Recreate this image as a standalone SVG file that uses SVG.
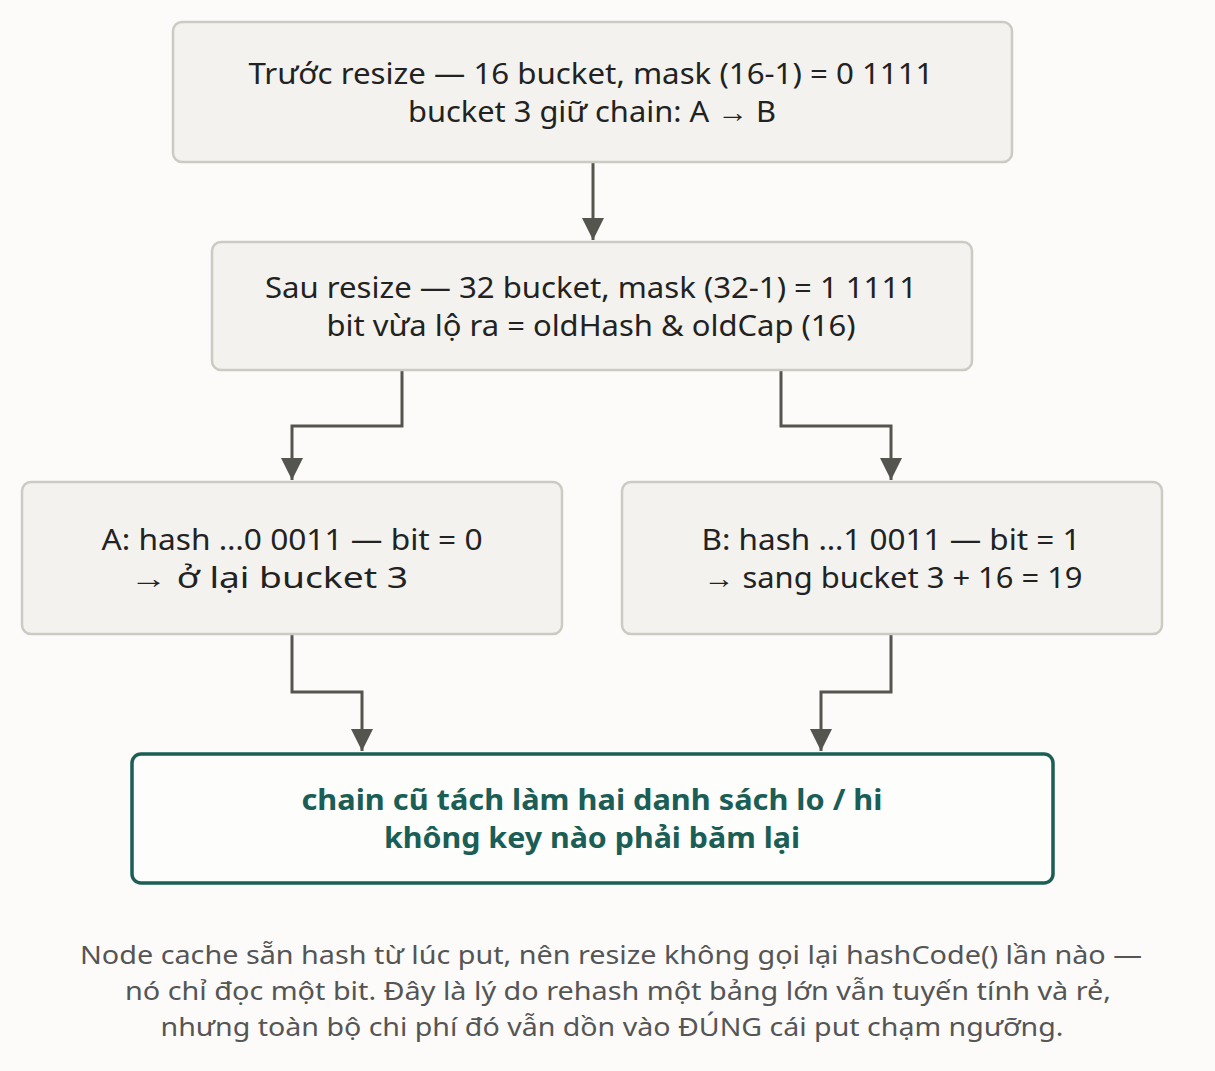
<svg xmlns="http://www.w3.org/2000/svg" width="1215" height="1071" viewBox="0 0 1215 1071">
<style>
.n{fill:#f3f2ee;stroke:#cbcac3;stroke-width:2.5}
.t{font-family:"Noto Sans","Liberation Sans",Arial,sans-serif;font-size:29px;fill:#222;text-anchor:middle}
.h{font-family:"Noto Sans","Liberation Sans",Arial,sans-serif;font-size:29px;font-weight:bold;fill:#1a5e55;text-anchor:middle}
.c{font-family:"Noto Sans","Liberation Sans",Arial,sans-serif;font-size:26px;fill:#555;text-anchor:middle}
.e{fill:none;stroke:#555550;stroke-width:3}
</style>
<defs>
<marker id="m" viewBox="0 0 10 10" refX="10" refY="5" markerWidth="22" markerHeight="22" markerUnits="userSpaceOnUse" orient="auto"><path d="M0,0L10,5L0,10z" fill="#555550"/></marker></defs>
<rect width="1215" height="1071" fill="#fcfbf9"/>
<g id="connectors">
<path class="e" d="M593,162V240" marker-end="url(#m)"/>
<path class="e" d="M402,370V426H292V480" marker-end="url(#m)"/>
<path class="e" d="M781,370V426H891V480" marker-end="url(#m)"/>
<path class="e" d="M292,634V692H362V751" marker-end="url(#m)"/>
<path class="e" d="M891,634V692H821V751" marker-end="url(#m)"/>
</g>
<g id="n1"><rect class="n" x="173" y="22" width="839" height="140" rx="9"/>
<text class="t" x="591" y="84" textLength="685" lengthAdjust="spacingAndGlyphs">Trước resize — 16 bucket, mask (16-1) = 0 1111</text>
<text class="t" x="592" y="122" textLength="368" lengthAdjust="spacingAndGlyphs">bucket 3 giữ chain: A → B</text></g>
<g id="n2"><rect class="n" x="212" y="242" width="760" height="128" rx="9"/>
<text class="t" x="591" y="298" textLength="652" lengthAdjust="spacingAndGlyphs">Sau resize — 32 bucket, mask (32-1) = 1 1111</text>
<text class="t" x="591" y="336" textLength="529" lengthAdjust="spacingAndGlyphs">bit vừa lộ ra = oldHash &amp; oldCap (16)</text></g>
<g id="n3"><rect class="n" x="22" y="482" width="540" height="152" rx="9"/>
<text class="t" x="292" y="550" textLength="381" lengthAdjust="spacingAndGlyphs">A: hash …0 0011 — bit = 0</text>
<text class="t" x="269" y="588" textLength="278" lengthAdjust="spacingAndGlyphs">→ ở lại bucket 3</text></g>
<g id="n4"><rect class="n" x="622" y="482" width="540" height="152" rx="9"/>
<text class="t" x="891" y="550" textLength="379" lengthAdjust="spacingAndGlyphs">B: hash …1 0011 — bit = 1</text>
<text class="t" x="893" y="588" textLength="379" lengthAdjust="spacingAndGlyphs">→ sang bucket 3 + 16 = 19</text></g>
<g id="n5"><rect x="132" y="754" width="921" height="129" rx="9" fill="#fdfdfc" stroke="#1a5e55" stroke-width="3.5"/>
<text class="h" x="592" y="810" textLength="581" lengthAdjust="spacingAndGlyphs">chain cũ tách làm hai danh sách lo / hi</text>
<text class="h" x="592" y="848" textLength="416" lengthAdjust="spacingAndGlyphs">không key nào phải băm lại</text></g>
<g id="caption">
<text class="c" x="611" y="964" textLength="1062" lengthAdjust="spacingAndGlyphs">Node cache sẵn hash từ lúc put, nên resize không gọi lại hashCode() lần nào —</text>
<text class="c" x="618" y="1000" textLength="986" lengthAdjust="spacingAndGlyphs">nó chỉ đọc một bit. Đây là lý do rehash một bảng lớn vẫn tuyến tính và rẻ,</text>
<text class="c" x="612" y="1036" textLength="903" lengthAdjust="spacingAndGlyphs">nhưng toàn bộ chi phí đó vẫn dồn vào ĐÚNG cái put chạm ngưỡng.</text>
</g>
</svg>
